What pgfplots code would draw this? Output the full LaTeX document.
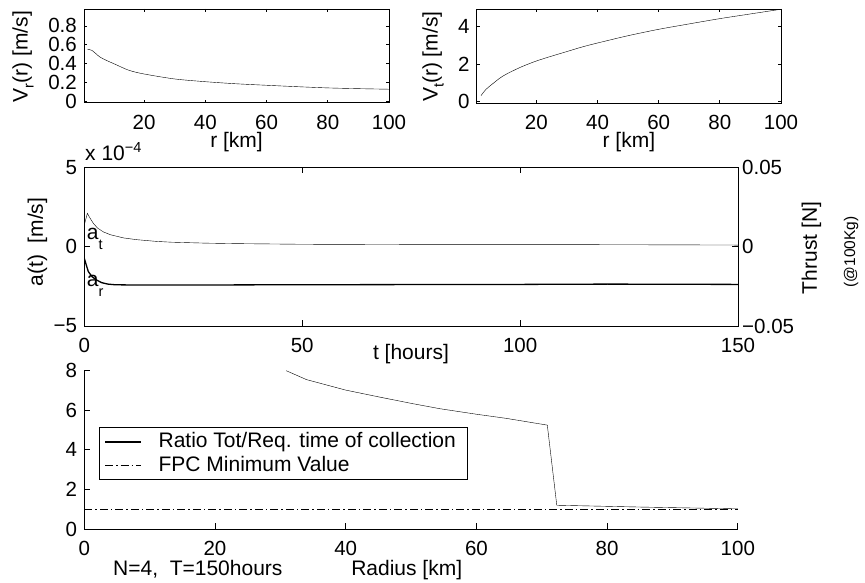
\documentclass[border=0pt]{standalone}
\usepackage{fontspec}
\setmainfont{Liberation Sans}
\usepackage{pgfplots}
\pgfplotsset{compat=1.18}

% MATLAB-like subscript: smaller and well below the baseline
\newcommand\sub[2][6pt]{\raisebox{-#1}{\fontsize{14.5}{14.5}\selectfont #2}}

\pgfplotsset{
  mat/.style={
    scale only axis, anchor=south west,
    tick align=inside,
    axis line style={line width=0.9pt, -},
    every outer x axis line/.append style={-},
    every outer y axis line/.append style={-},
    major tick style={line width=0.8pt, black},
    every tick label/.append style={font=\fontsize{20.5}{24}\selectfont},
    xticklabel style={yshift=-5pt},
    scaled ticks=false,
    cycle list={{black, line width=1.3pt}},
  },
}

\begin{document}
\fontsize{21}{25}\selectfont
\begin{tikzpicture}[x=1pt,y=1pt]
\useasboundingbox (0,0) rectangle (865,583);

% ---- top left: radial velocity
\begin{axis}[mat, at={(84pt,480.3pt)}, width=305pt, height=93.7pt,
  xmin=0.4, xmax=100, ymin=-0.015, ymax=0.98,
  xtick={20,40,60,80,100}, xticklabels={20,40,60,80,100},
  ytick={0,0.2,0.4,0.6,0.8}, yticklabels={0,0.2,0.4,0.6,0.8},
  major tick length=3pt]
\addplot+[no marks, smooth] coordinates {(1.5,0.553) (3,0.54) (5.6,0.47) (8,0.43) (10.1,0.40)
  (15,0.33) (20,0.29) (30,0.237) (40,0.208) (50,0.186) (60,0.17) (70,0.155) (80,0.142)
  (90,0.134) (100,0.128)};
\end{axis}

% ---- top right: tangential velocity
\begin{axis}[mat, at={(476.7pt,479.7pt)}, width=304.3pt, height=94.3pt,
  xmin=0.5, xmax=100, ymin=-0.085, ymax=4.944,
  xtick={20,40,60,80,100}, xticklabels={20,40,60,80,100},
  ytick={0,2,4}, yticklabels={0,2,4},
  major tick length=3pt]
\addplot+[no marks, smooth] coordinates {(1.9,0.32) (3.5,0.65) (5.9,0.98) (8,1.25) (10.3,1.48)
  (15,1.85) (20,2.17) (25,2.43) (29.9,2.67) (35,2.92) (40,3.13) (50,3.52) (60,3.86)
  (70,4.15) (80,4.43) (90,4.68) (100,4.93)};
\end{axis}

% ---- middle: accelerations
\begin{axis}[mat, at={(84.3pt,257pt)}, width=653.7pt, height=158.7pt,
  xmin=0, xmax=150, ymin=-5, ymax=5,
  xtick={0,50,100,150}, xticklabels={0,50,100,150},
  ytick={-5,0,5}, yticklabels={−5,0,5}, ytick pos=left,
  major tick length=6pt]
\addplot+[no marks] coordinates {(0,1.37) (0.7,2.1) (1.2,1.85) (2.07,1.47) (3,1.18) (4.37,0.93)
  (6,0.75) (9,0.55) (12,0.44) (16.6,0.33) (20,0.28) (28,0.22) (35,0.19) (50,0.15)
  (75,0.13) (100,0.13) (125,0.12) (150,0.1)};
\addplot+[no marks] coordinates {(0,-0.73) (0.5,-1.2) (0.92,-1.57) (1.8,-1.9) (2.8,-2.1) (4,-2.27)
  (5.4,-2.36) (7,-2.40) (9,-2.41) (20,-2.42) (50,-2.4) (100,-2.38) (120,-2.36) (150,-2.38)};
\node[anchor=base west, inner sep=0pt] at (axis cs:0.55,0.47) {a\sub[10pt]{t}};
\node[anchor=base west, inner sep=0pt] at (axis cs:0.55,-2.52) {a\sub[10pt]{r}};
\end{axis}
\begin{axis}[mat, at={(84.3pt,257pt)}, width=653.7pt, height=158.7pt,
  xmin=0, xmax=150, ymin=-0.05, ymax=0.05,
  axis x line=none, axis y line*=right,
  ytick={-0.05,0,0.05}, yticklabels={−0.05,0,0.05},
  yticklabel style={xshift=-3pt},
  major tick length=6pt]
\addplot[draw=none] coordinates {(0,0)};
\end{axis}

% ---- bottom: FPC ratio
\begin{axis}[mat, at={(84.3pt,54pt)}, width=653.5pt, height=158.3pt,
  xmin=0, xmax=100, ymin=0, ymax=8,
  axis x line*=bottom, axis y line*=left,
  xtick={0,20,40,60,80,100}, xticklabels={0,20,40,60,80,100},
  ytick={0,2,4,6,8}, yticklabels={0,2,4,6,8},
  major tick length=6pt,
  legend style={at={(rel axis cs:0.0225,0.642)}, anchor=north west,
    draw=black, line width=0.8pt, font=\fontsize{21}{25}\selectfont,
    inner xsep=10pt, inner ysep=3pt, row sep=1pt,
    cells={anchor=west}},
  legend image code/.code={\path (5pt,0pt) (51pt,0pt);
    \draw[#1, line width=1.2pt, overlay] (0pt,0pt) -- (36pt,0pt);}]
\addplot+[no marks] coordinates {(30.9,8.0) (34,7.55) (40,7.02) (45,6.68) (50,6.35) (54.4,6.08)
  (60,5.8) (64.6,5.59) (70.85,5.25) (72.3,1.2) (85,1.11) (100,1.02)};
\addplot[black, line width=1.2pt, dash pattern=on 8pt off 3pt on 1.5pt off 3pt] coordinates {(0,1) (100,1)};
\legend{Ratio Tot/Req. time of collection, FPC Minimum Value}
\end{axis}

% ---- labels
\node[rotate=90] at (23,526.3) {V\sub{r}(r) [m/s]};
\node[rotate=90] at (433,526.3) {V\sub{t}(r) [m/s]};
\node at (236.5,441.3) {r [km]};
\node at (628.9,441.3) {r [km]};
\node[anchor=base west, inner sep=0pt] at (85,422) {x 10\raisebox{8pt}{\fontsize{14.5}{14.5}\selectfont −4}};
\node[rotate=90] at (37.5,341) {a(t)\ \ [m/s]};
\node[rotate=90] at (811.5,335) {Thrust [N]};
\node[rotate=90, font=\fontsize{15.5}{18}\selectfont] at (851,331) {(@100Kg)};
\node at (411,229) {t [hours]};
\node[anchor=base west, inner sep=0pt] at (113,7) {N=4,\ \ T=150hours};
\node[anchor=base, inner sep=0pt] at (406.7,7) {Radius [km]};
\end{tikzpicture}
\end{document}
